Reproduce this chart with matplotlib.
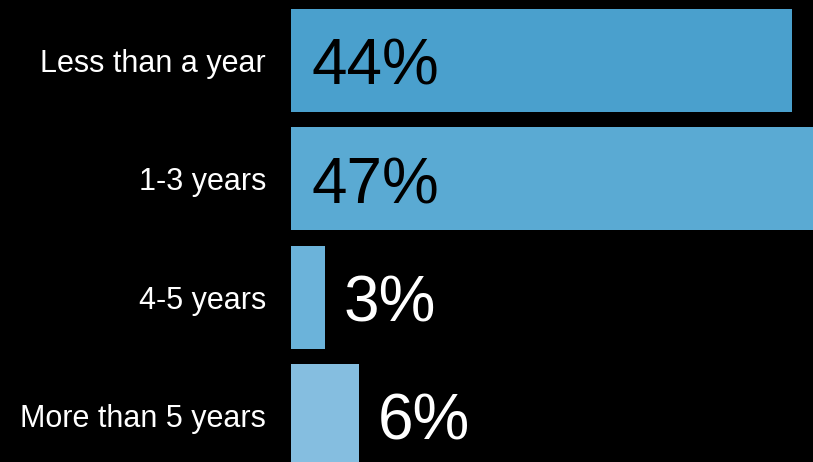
import matplotlib.pyplot as plt

categories = ["Less than a year", "1-3 years", "4-5 years", "More than 5 years"]
values = [44, 47, 3, 6]
colors = ["#4aa0cd", "#5aaad3", "#6bb3da", "#85bee0"]

plt.rcParams["font.family"] = ["Liberation Sans", "DejaVu Sans"]

fig = plt.figure(figsize=(8.13, 4.62), dpi=100, facecolor="black")
ax = fig.add_axes([291 / 813, 0, 522 / 813, 1])
ax.set_facecolor("black")

ypos = range(len(categories))
ax.barh(ypos, values, height=0.87, color=colors)

for y, v in zip(ypos, values):
    if v > 20:
        ax.annotate(f"{v}%", (0, y), xytext=(15, -17.5), textcoords="offset points",
                    va="baseline", ha="left", fontsize=46, color="black")
    else:
        ax.annotate(f"{v}%", (v, y), xytext=(13, -17.5), textcoords="offset points",
                    va="baseline", ha="left", fontsize=46, color="white")

ax.set_xlim(0, 45.83)
ax.set_ylim(3.394, -0.511)
ax.set_yticks(list(ypos))
ax.set_yticklabels(categories, color="white", fontsize=22)
ax.tick_params(axis="y", length=0, pad=18)
ax.set_xticks([])
for s in ax.spines.values():
    s.set_visible(False)

fig.savefig("out.png", facecolor="black")
